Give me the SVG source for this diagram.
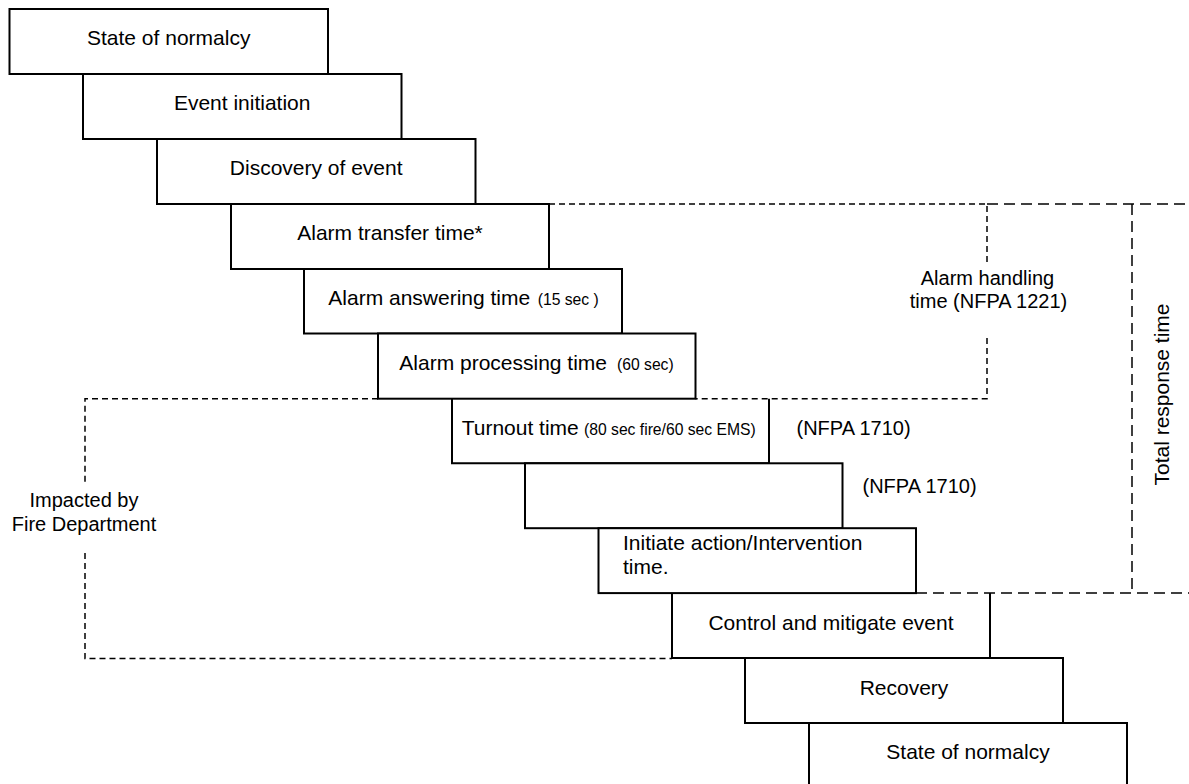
<svg xmlns="http://www.w3.org/2000/svg" width="1189" height="784" viewBox="0 0 1189 784">
<style>
.box{fill:#fff;stroke:#000;stroke-width:2}
.edge{fill:none;stroke:#000;stroke-width:2}
.t{font-family:"Liberation Sans",Arial,sans-serif;font-size:21px;fill:#000}
.c{text-anchor:middle}
.s{font-size:15.7px}
.lab{font-family:"Liberation Sans",Arial,sans-serif;font-size:20px;fill:#000}
.short{fill:none;stroke:#000;stroke-width:1.5;stroke-dasharray:6 4}
.long{fill:none;stroke:#000;stroke-width:1.5;stroke-dasharray:11 6}
</style>
<rect width="1189" height="784" fill="#fff"/>
<g id="connectors">
<path class="short" d="M549,204 H987 V266"/>
<path class="short" d="M987,338 V398.7 H695.5"/>
<path class="long" d="M987,204 H1189"/>
<path class="long" d="M1132,204 V593"/>
<path class="long" d="M916,593 H1189"/>
<path class="short" d="M378,398.7 H85 V482"/>
<path class="short" d="M85,553 V658.5 H672"/>
</g>
<g id="n1"><rect class="box" x="9.5" y="9" width="318.5" height="65"/><text class="t c" x="168.7" y="45">State of normalcy</text></g>
<g id="n2"><rect class="box" x="83" y="74" width="318.5" height="65"/><text class="t c" x="242.2" y="110">Event initiation</text></g>
<g id="n3"><rect class="box" x="157" y="139" width="318.5" height="65"/><text class="t c" x="316.2" y="175">Discovery of event</text></g>
<g id="n4"><rect class="box" x="231" y="204" width="318" height="65"/><text class="t c" x="390" y="240">Alarm transfer time*</text></g>
<g id="n5"><rect class="box" x="304" y="269" width="318" height="64.5"/><text class="t" x="328.3" y="305">Alarm answering time<tspan class="s" x="537.7">(15 sec )</tspan></text></g>
<g id="n6"><rect class="box" x="378" y="333.5" width="317.5" height="65.2"/><text class="t" x="399.3" y="370">Alarm processing time<tspan class="s" x="617">(60 sec)</tspan></text></g>
<g id="n7"><path class="edge" d="M452,398.7 V463.3 H769 V398.7"/><text class="t" x="461.7" y="434.5">Turnout time<tspan class="s" x="584">(80 sec fire/60 sec EMS)</tspan></text></g>
<g id="n8"><rect class="box" x="525" y="463.3" width="317.5" height="64.9"/></g>
<g id="n9"><rect class="box" x="598.5" y="528.2" width="317.5" height="64.9"/><text class="t" x="623" y="550">Initiate action/Intervention</text><text class="t" x="623" y="574">time.</text></g>
<g id="n10"><path class="edge" d="M672,593.1 V658 H990 V593.1"/><text class="t c" x="831" y="630">Control and mitigate event</text></g>
<g id="n11"><rect class="box" x="745" y="658" width="318" height="65"/><text class="t c" x="904" y="695">Recovery</text></g>
<g id="n12"><rect class="box" x="809" y="723" width="318" height="70"/><text class="t c" x="968" y="758.5">State of normalcy</text></g>
<g id="labels">
<text class="lab c" x="987.5" y="285">Alarm handling</text>
<text class="lab c" x="988.5" y="308">time (NFPA 1221)</text>
<text class="lab" x="796.5" y="435">(NFPA 1710)</text>
<text class="lab" x="862.5" y="493">(NFPA 1710)</text>
<text class="lab c" x="84" y="507">Impacted by</text>
<text class="lab c" x="84" y="531">Fire Department</text>
<text class="t c" transform="translate(1169,394.5) rotate(-90)">Total response time</text>
</g>
</svg>
